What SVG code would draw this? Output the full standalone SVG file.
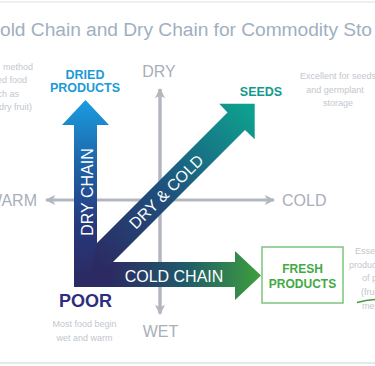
<svg xmlns="http://www.w3.org/2000/svg" width="375" height="366" viewBox="0 0 375 366">
<style>
.ax{stroke:#b3b8c0;stroke-width:3;fill:none}
.axl{font-family:"Liberation Sans",Arial,sans-serif;font-size:16px;fill:#a9aeb8}
.note{font-family:"Liberation Sans",Arial,sans-serif;font-size:9px;fill:#c3c7ce}
.lbl{font-family:"Liberation Sans",Arial,sans-serif;font-weight:bold}
.arw{font-family:"Liberation Sans",Arial,sans-serif;font-size:16px;fill:#ffffff}
</style>
<defs>
<marker id="ah" viewBox="0 0 10 10" refX="9" refY="5" markerWidth="3.4" markerHeight="3.4" orient="auto" markerUnits="strokeWidth">
<path d="M0,0 L10,5 L0,10 L2.5,5 z" fill="#b3b8c0"/>
</marker>
<linearGradient id="gV" gradientUnits="userSpaceOnUse" x1="85" y1="280" x2="85" y2="100">
<stop offset="0" stop-color="#2c2a62"/>
<stop offset="0.3" stop-color="#26397c"/>
<stop offset="0.65" stop-color="#1e64a8"/>
<stop offset="1" stop-color="#1a9de0"/>
</linearGradient>
<linearGradient id="gD" gradientUnits="userSpaceOnUse" x1="100" y1="270" x2="252" y2="112">
<stop offset="0" stop-color="#2c2a62"/>
<stop offset="0.45" stop-color="#1f4f7c"/>
<stop offset="1" stop-color="#0ea08f"/>
</linearGradient>
<linearGradient id="gC" gradientUnits="userSpaceOnUse" x1="110" y1="0" x2="261" y2="0">
<stop offset="0" stop-color="#2c2a62"/>
<stop offset="0.5" stop-color="#1f5a6a"/>
<stop offset="1" stop-color="#3e9f3b"/>
</linearGradient>
</defs>
<rect width="375" height="366" fill="#ffffff"/>
<line x1="0" y1="2" x2="375" y2="2" stroke="#e7eaee" stroke-width="1.5"/>
<line x1="0" y1="363" x2="375" y2="363" stroke="#e8e8ea" stroke-width="2"/>
<text id="title" x="0" y="35.5" font-family="'Liberation Sans',Arial,sans-serif" font-size="19.2" fill="#a0b0c0" textLength="372" lengthAdjust="spacing">old Chain and Dry Chain for Commodity Sto</text>

<g id="connectors">
<line class="ax" x1="160" y1="89" x2="160" y2="314" marker-end="url(#ah)"/>
<line class="ax" x1="160" y1="313" x2="160" y2="89" marker-end="url(#ah)"/>
<line class="ax" x1="160" y1="200" x2="274" y2="200" marker-end="url(#ah)"/>
<line class="ax" x1="160" y1="200" x2="46" y2="200" marker-end="url(#ah)"/>
</g>

<g id="axis-labels">
<text class="axl" x="159" y="77" text-anchor="middle">DRY</text>
<text class="axl" x="160.5" y="337" text-anchor="middle">WET</text>
<text class="axl" x="282" y="206">COLD</text>
<text class="axl" x="37" y="206" text-anchor="end">WARM</text>
</g>

<g id="cold-chain">
<polygon points="74,262 235,262 235,251 261,275.5 235,300 235,287 74,287" fill="url(#gC)"/>
<text class="arw" x="174" y="282" text-anchor="middle">COLD CHAIN</text>
</g>
<g id="dry-cold">
<polygon points="74,266 227.5,112.5 219.3,103.8 254.7,103.8 254.7,139.2 245,130 88,287 74,287" fill="url(#gD)"/>
<text class="arw" transform="translate(166,191.5) rotate(-45)" x="0" y="6" text-anchor="middle">DRY &amp; COLD</text>
</g>
<g id="dry-chain">
<polygon points="74,287 74,125 62,125 85.5,100 109,125 97,125 97,243 88,287" fill="url(#gV)"/>
<text class="arw" transform="translate(93,192) rotate(-90)" x="0" y="0" text-anchor="middle">DRY CHAIN</text>
</g>

<g id="dried-products">
<text class="lbl" x="85" y="79" text-anchor="middle" font-size="12.5" fill="#1b9ad8">DRIED</text>
<text class="lbl" x="85" y="92" text-anchor="middle" font-size="12.5" fill="#1b9ad8">PRODUCTS</text>
</g>
<g id="seeds">
<text class="lbl" x="261" y="96" text-anchor="middle" font-size="12.5" fill="#139a8c">SEEDS</text>
</g>
<g id="fresh-products">
<rect x="262" y="247" width="81" height="56" fill="none" stroke="#7cc47c" stroke-width="1.5"/>
<text class="lbl" x="302.5" y="273" text-anchor="middle" font-size="12" fill="#43a945">FRESH</text>
<text class="lbl" x="302.5" y="288" text-anchor="middle" font-size="12" fill="#43a945">PRODUCTS</text>
</g>
<g id="poor">
<text class="lbl" x="85.5" y="307" text-anchor="middle" font-size="18" fill="#2d2e7e">POOR</text>
<text class="note" x="84.5" y="327" text-anchor="middle">Most food begin</text>
<text class="note" x="84.5" y="340.5" text-anchor="middle">wet and warm</text>
</g>

<g id="note-seeds">
<text class="note" x="338" y="79" text-anchor="middle">Excellent for seeds</text>
<text class="note" x="335" y="92.5" text-anchor="middle">and germplant</text>
<text class="note" x="338" y="106" text-anchor="middle">storage</text>
</g>
<g id="note-dried">
<text class="note" x="33" y="69.5" text-anchor="end">method</text>
<text class="note" x="27" y="83" text-anchor="end">ed food</text>
<text class="note" x="19" y="96.5" text-anchor="end">ch as</text>
<text class="note" x="32" y="110" text-anchor="end">dry fruit)</text>
</g>
<g id="note-fresh">
<text class="note" x="355" y="254">Esse</text>
<text class="note" x="349" y="267.5">produc</text>
<text class="note" x="362" y="281">of p</text>
<text class="note" x="361" y="294.5">(frui</text>
<path d="M357,302.5 Q366,300 375,299.5" fill="none" stroke="#3f9f3f" stroke-width="1.4"/>
<text class="note" x="362" y="309">me</text>
</g>
</svg>
